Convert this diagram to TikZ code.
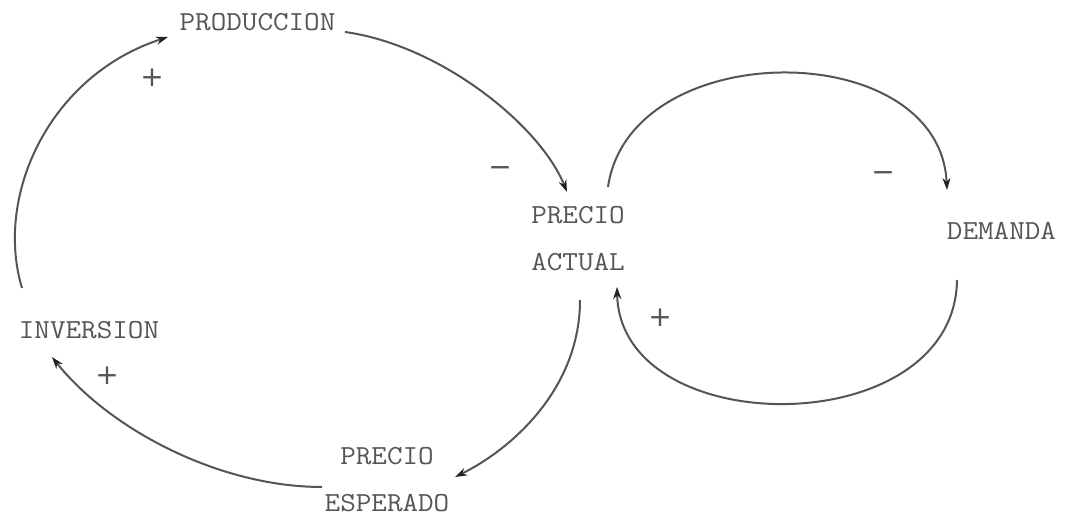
\documentclass[tikz,border=0pt]{standalone}
\usepackage{fontspec}
\usepackage{graphicx}
\newfontfamily\signfont{DejaVu Sans}
\usetikzlibrary{arrows.meta}
\definecolor{ink}{HTML}{555555}
\definecolor{tipc}{HTML}{222222}
\newcommand{\lbtext}[1]{\scalebox{1.1}[1]{#1}}
\tikzset{
  lbl/.style={font=\ttfamily\fontsize{27.5}{47}\selectfont, text=ink, inner sep=0pt, align=center},
  link/.style={draw=ink, line width=2pt, -{Stealth[length=12pt,width=8pt,color=tipc]}},
  sgn/.style={font=\signfont\fontsize{28}{28}\selectfont, text=ink, inner sep=0pt, anchor=base}
}
\begin{document}
\begin{tikzpicture}[x=1pt,y=-1pt]
\useasboundingbox[fill=white] (0,0) rectangle (1066,516);
% labels
\node[lbl] (prod) at (257.5,22.5) {\lbtext{PRODUCCION}};
\node[lbl] (pact) at (578,239) {\lbtext{PRECIO}\\\lbtext{ACTUAL}};
\node[lbl] (dem) at (1001.5,230.5) {\lbtext{DEMANDA}};
\node[lbl] (inv) at (89,330) {\lbtext{INVERSION}};
\node[lbl] (pesp) at (387,479.5) {\lbtext{PRECIO}\\\lbtext{ESPERADO}};
% connector ends
\coordinate (invOut) at (22,288);
\coordinate (prodIn) at (168,37);
\coordinate (prodOut) at (345,32);
\coordinate (pactInA) at (567,192);
\coordinate (pactOutA) at (608,187);
\coordinate (demIn) at (947,190);
\coordinate (demOut) at (957,280);
\coordinate (pactInB) at (617,287);
\coordinate (pactOutB) at (580,300);
\coordinate (pespIn) at (455,477);
\coordinate (pespOut) at (322,487);
\coordinate (invIn) at (52,357);
% connectors
\draw[link] (invOut) .. controls (-6,195) and (50,75) .. (prodIn);
\draw[link] (prodOut) .. controls (440,45) and (540,125) .. (pactInA);
\draw[link] (pactOutA) .. controls (630,35) and (940,35) .. (demIn);
\draw[link] (demOut) .. controls (955,443) and (620,443) .. (pactInB);
\draw[link] (pactOutB) .. controls (580,390) and (510,450) .. (pespIn);
\draw[link] (pespOut) .. controls (220,487) and (110,430) .. (invIn);
% polarity signs
\node[sgn] (s1) at (152,87) {+};
\node[sgn] (s2) at (500,177) {−};
\node[sgn] (s3) at (883,182) {−};
\node[sgn] (s4) at (660,326) {+};
\node[sgn] (s5) at (107,384) {+};
\end{tikzpicture}
\end{document}
